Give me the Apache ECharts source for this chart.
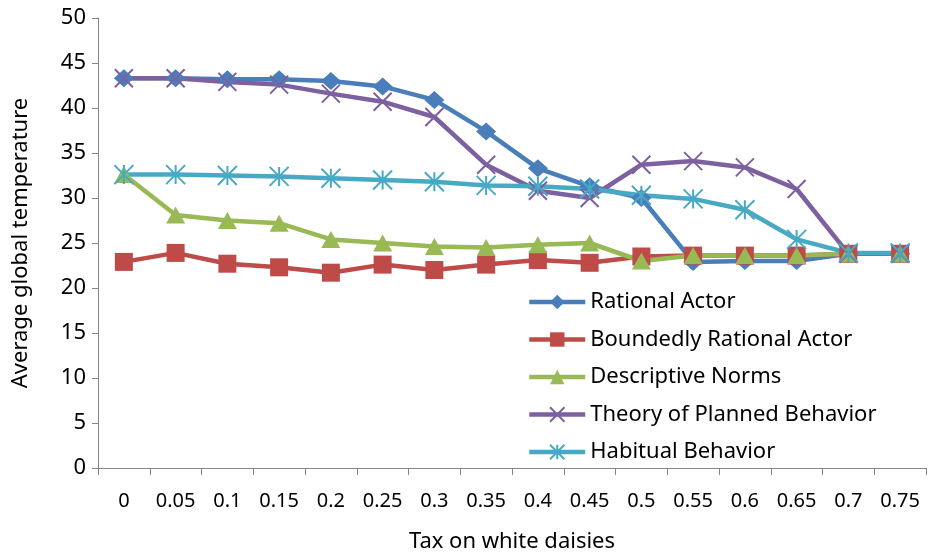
<!DOCTYPE html>
<html>
<head>
<meta charset="utf-8">
<script src="https://cdn.jsdelivr.net/npm/echarts@6/dist/echarts.min.js"></script>
<style>
  html, body { margin: 0; padding: 0; background: #fff; }
  #chart { width: 930px; height: 559px; }
</style>
</head>
<body>
<div id="chart"></div>
<script>
// tax levels on the x axis
var taxLevels = ['0', '0.05', '0.1', '0.15', '0.2', '0.25', '0.3', '0.35', '0.4', '0.45', '0.5', '0.55', '0.6', '0.65', '0.7', '0.75'];

// average global temperature per model
var rationalActor = [43.3, 43.3, 43.2, 43.2, 43.0, 42.4, 40.9, 37.4, 33.3, 31.3, 30.0, 22.9, 23.0, 23.0, 23.8, 23.8];
var boundedlyRational = [22.9, 23.9, 22.7, 22.3, 21.7, 22.6, 22.0, 22.6, 23.1, 22.8, 23.5, 23.6, 23.6, 23.6, 23.8, 23.8];
var descriptiveNorms = [32.6, 28.1, 27.5, 27.2, 25.4, 25.0, 24.6, 24.5, 24.8, 25.0, 23.0, 23.6, 23.6, 23.6, 23.8, 23.8];
var plannedBehavior = [43.3, 43.3, 42.9, 42.6, 41.6, 40.7, 39.0, 33.7, 30.8, 30.0, 33.7, 34.1, 33.4, 31.0, 23.8, 23.8];
var habitualBehavior = [32.6, 32.6, 32.5, 32.4, 32.2, 32.0, 31.8, 31.4, 31.3, 31.0, 30.3, 29.9, 28.7, 25.4, 23.9, 23.9];

var yTicks = { min: 0, max: 50, step: 5 };

var fontName = 'Noto Sans';

function makeSeries(name, data, color, symbol, size, stroke) {
    return {
        name: name,
        type: 'line',
        data: data,
        symbol: symbol,
        symbolSize: size,
        showAllSymbol: true,
        lineStyle: { width: 4.5, color: color },
        itemStyle: {
            color: color,
            borderColor: color,
            borderWidth: stroke ? 2 : 0
        },
        emphasis: { disabled: true },
        animation: false
    };
}

var xMark = 'path://M0,0L10,10M10,0L0,10';
var starMark = 'path://M5,0L5,10M0,0L10,10M10,0L0,10';

var myChart = echarts.init(document.getElementById('chart'), null, { renderer: 'canvas' });

myChart.setOption({
    backgroundColor: '#ffffff',
    animation: false,
    grid: {
        left: 98,
        right: 4,
        top: 18,
        bottom: 91
    },
    legend: {
        orient: 'vertical',
        left: 522,
        top: 286,
        itemWidth: 56,
        itemHeight: 18,
        itemGap: 15.5,
        lineStyle: { width: 4.5 },
        textStyle: {
            fontFamily: fontName,
            fontSize: 22,
            color: '#000000'
        },
        data: ['Rational Actor', 'Boundedly Rational Actor', 'Descriptive Norms', 'Theory of Planned Behavior', 'Habitual Behavior']
    },
    xAxis: {
        type: 'category',
        data: taxLevels,
        boundaryGap: true,
        name: 'Tax on white daisies',
        nameLocation: 'middle',
        nameGap: 63,
        nameTextStyle: { fontFamily: fontName, fontSize: 22, color: '#000000' },
        axisLine: { lineStyle: { color: '#868686', width: 1 } },
        axisTick: { show: true, length: 7, lineStyle: { color: '#868686' } },
        axisLabel: { fontFamily: fontName, fontSize: 20, color: '#000000', margin: 23, interval: 0 }
    },
    yAxis: {
        type: 'value',
        min: yTicks.min,
        max: yTicks.max,
        interval: yTicks.step,
        name: 'Average global temperature',
        nameLocation: 'middle',
        nameGap: 66,
        nameRotate: 90,
        nameTextStyle: { fontFamily: fontName, fontSize: 22, color: '#000000' },
        axisLine: { show: true, lineStyle: { color: '#868686', width: 1 } },
        axisTick: { show: true, length: 6, lineStyle: { color: '#868686' } },
        axisLabel: { fontFamily: fontName, fontSize: 22, color: '#000000', margin: 12 },
        splitLine: { show: false }
    },
    series: [
        makeSeries('Rational Actor', rationalActor, '#4a7ebb', 'diamond', [20, 18], false),
        makeSeries('Boundedly Rational Actor', boundedlyRational, '#be4b48', 'rect', 18, false),
        makeSeries('Descriptive Norms', descriptiveNorms, '#98b954', 'triangle', [19, 17], false),
        makeSeries('Theory of Planned Behavior', plannedBehavior, '#7d60a0', xMark, 18, true),
        makeSeries('Habitual Behavior', habitualBehavior, '#46aac5', starMark, 19, true)
    ]
});
</script>
</body>
</html>
